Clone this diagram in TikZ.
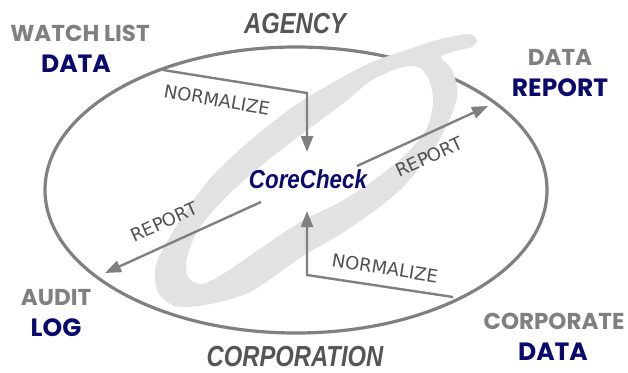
\documentclass[tikz,border=0pt]{standalone}
\usepackage{fontspec}
\usepackage{graphicx}
\usetikzlibrary{arrows.meta}
\setmainfont{DejaVu Sans}
\newfontfamily\popp{Poppins}
\newfontfamily\lib{Liberation Sans}
\definecolor{lgray}{HTML}{808080}
\definecolor{navy}{HTML}{0A0A6E}
\definecolor{swooshc}{HTML}{E2E2E2}
\definecolor{dgray}{HTML}{555555}
\definecolor{lblc}{HTML}{505050}
\tikzset{
  corner/.style={font=\popp\bfseries\fontsize{23}{23}\selectfont, text=lgray, inner sep=0pt},
  cornerb/.style={font=\popp\bfseries\fontsize{25}{25}\selectfont, text=navy, inner sep=0pt},
  party/.style={font=\lib\bfseries\itshape\fontsize{29}{29}\selectfont, text=dgray, inner sep=0pt},
  flowlbl/.style={font=\fontsize{18}{18}\selectfont, text=lblc, inner sep=0pt},
  flow/.style={draw=lgray, line width=2.4pt, -{Triangle[length=16pt,width=12pt]}},
  ring/.style={draw=lgray, line width=3.2pt}
}
\begin{document}
\begin{tikzpicture}[x=1pt,y=-1pt]
\useasboundingbox (0,0) rectangle (628,372);
% main ellipse
\draw[ring] (296,190) ellipse [x radius=251pt, y radius=143pt];
% swoosh
\fill[swooshc, even odd rule]
  plot[smooth cycle] coordinates {(477,40) (468,34) (437,40) (403,51) (370,63) (330,84) (290,109) (245,145) (208,181) (175,228) (156,265) (158,292) (175,306) (205,305) (250,292) (303,256) (350,228) (400,190) (438,142) (457,98) (452,70) (441,57) (456,51) (472,47)}
  plot[smooth cycle] coordinates {(372,80) (403,67) (420,68) (430,82) (433,104) (426,130) (405,155) (374,180) (340,202) (302,221) (264,246) (226,272) (202,284) (188,277) (187,258) (198,230) (223,200) (256,170) (298,137) (345,102)};
% corner labels
\node[corner] (wl) at (80,33.5) {WATCH LIST};
\node[cornerb] (wld) at (76,64) {DATA};
\node[corner] (dr1) at (560,57.5) {DATA};
\node[cornerb] (dr2) at (560,87.5) {REPORT};
\node[corner] (al1) at (56,298) {AUDIT};
\node[cornerb] (al2) at (56,327.5) {LOG};
\node[corner] (cd1) at (554,321.5) {CORPORATE};
\node[cornerb] (cd2) at (553,351.5) {DATA};
\node[party] (ag) at (295,24) {\scalebox{0.82}[1]{AGENCY}};
\node[party] (corp) at (295,356.5) {\scalebox{0.82}[1]{CORPORATION}};
\node[font=\lib\bfseries\itshape\fontsize{26}{26}\selectfont, text=navy, inner sep=0pt] (cc) at (308,179) {\scalebox{0.86}[1]{CoreCheck}};
% connector points
\coordinate (s1) at (163,70);
\coordinate (k1) at (307,93);
\coordinate (t1) at (307,152);
\coordinate (s2) at (357,166);
\coordinate (t2) at (488,106);
\coordinate (s3) at (261,202);
\coordinate (t3) at (105,273);
\coordinate (s4) at (453,297);
\coordinate (k4) at (307,275);
\coordinate (t4) at (307,211);
\draw[flow] (s1) -- (k1) -- (t1);
\draw[flow] (s2) -- (t2);
\draw[flow] (s3) -- (t3);
\draw[flow] (s4) -- (k4) -- (t4);
\node[flowlbl, rotate=-10] (n1) at (217,100) {NORMALIZE};
\node[flowlbl, rotate=24.5] (r1) at (429,157) {REPORT};
\node[flowlbl, rotate=24.5] (r2) at (164,222) {REPORT};
\node[flowlbl, rotate=-9] (n2) at (385,268) {NORMALIZE};
\end{tikzpicture}
\end{document}
